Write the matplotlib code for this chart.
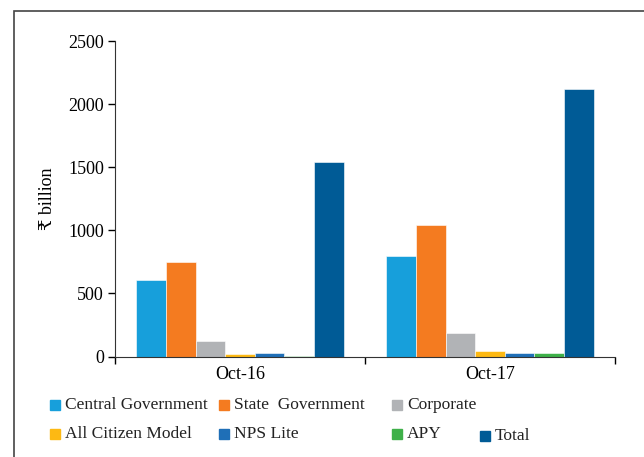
import numpy as np
import matplotlib.pyplot as plt
from matplotlib.patches import Rectangle

plt.rcParams['font.family'] = ['Liberation Serif', 'DejaVu Serif']

periods = ['Oct-16', 'Oct-17']
series = ['Central Government', 'State  Government', 'Corporate',
          'All Citizen Model', 'NPS Lite', 'APY', 'Total']
central = [605, 795]
state = [752, 1040]
corporate = [125, 190]
acm = [16, 40]
nps_lite = [24, 24]
apy = [6, 26]
total = [1540, 2120]
values = [central, state, corporate, acm, nps_lite, apy, total]
colors = ['#179fdb', '#f47b20', '#b1b3b6', '#fdb913', '#1f6fb7', '#3eb049', '#005b96']

W, H = 644, 457
fig = plt.figure(figsize=(W / 100, H / 100), dpi=100)
ax = fig.add_axes([115 / W, 1 - 356.5 / H, 500 / W, 315.5 / H])

x = np.arange(len(periods))
n = len(series)
bw = 0.83 / n
for i, (vals, c) in enumerate(zip(values, colors)):
    ax.bar(x - 0.415 + bw * (i + 0.5), vals, width=bw, color=c,
           edgecolor='white', linewidth=0.4)

ax.set_xlim(-0.5, 1.5)
ax.set_ylim(0, 2500)
ax.set_yticks(np.arange(0, 2501, 500))
ax.set_xticks(x)
ax.set_xticklabels(periods, fontsize=13)
ax.set_xticks([-0.5, 0.5, 1.5], minor=True)
ax.tick_params(axis='x', which='major', length=0, pad=7)
ax.tick_params(axis='x', which='minor', length=5, width=1, direction='out')
ax.tick_params(axis='y', length=5, width=1, labelsize=13, pad=3)
ax.spines['top'].set_visible(False)
ax.spines['right'].set_visible(False)
for s in ['left', 'bottom']:
    ax.spines[s].set_color('#333333')
ax.set_ylabel('₹ billion', fontsize=13, labelpad=9)

# outer frame
fig.add_artist(Rectangle((14 / W, -0.05), 1.1, 1 - 11 / H + 0.05,
                         transform=fig.transFigure, fill=False,
                         edgecolor='#444444', linewidth=1.2))

# legend laid out by hand
leg_pos = [(50, 405), (219, 405), (392, 405),
           (50, 434), (219, 434), (392, 434), (480, 436)]
for (px, py), lab, c in zip(leg_pos, series, colors):
    fig.add_artist(Rectangle((px / W, 1 - (py + 5) / H), 10 / W, 10 / H,
                             transform=fig.transFigure, color=c))
    fig.text((px + 15) / W, 1 - py / H, lab, fontsize=12.5,
             va='center', ha='left', color='#222222')

fig.savefig('out.png', dpi=100)
